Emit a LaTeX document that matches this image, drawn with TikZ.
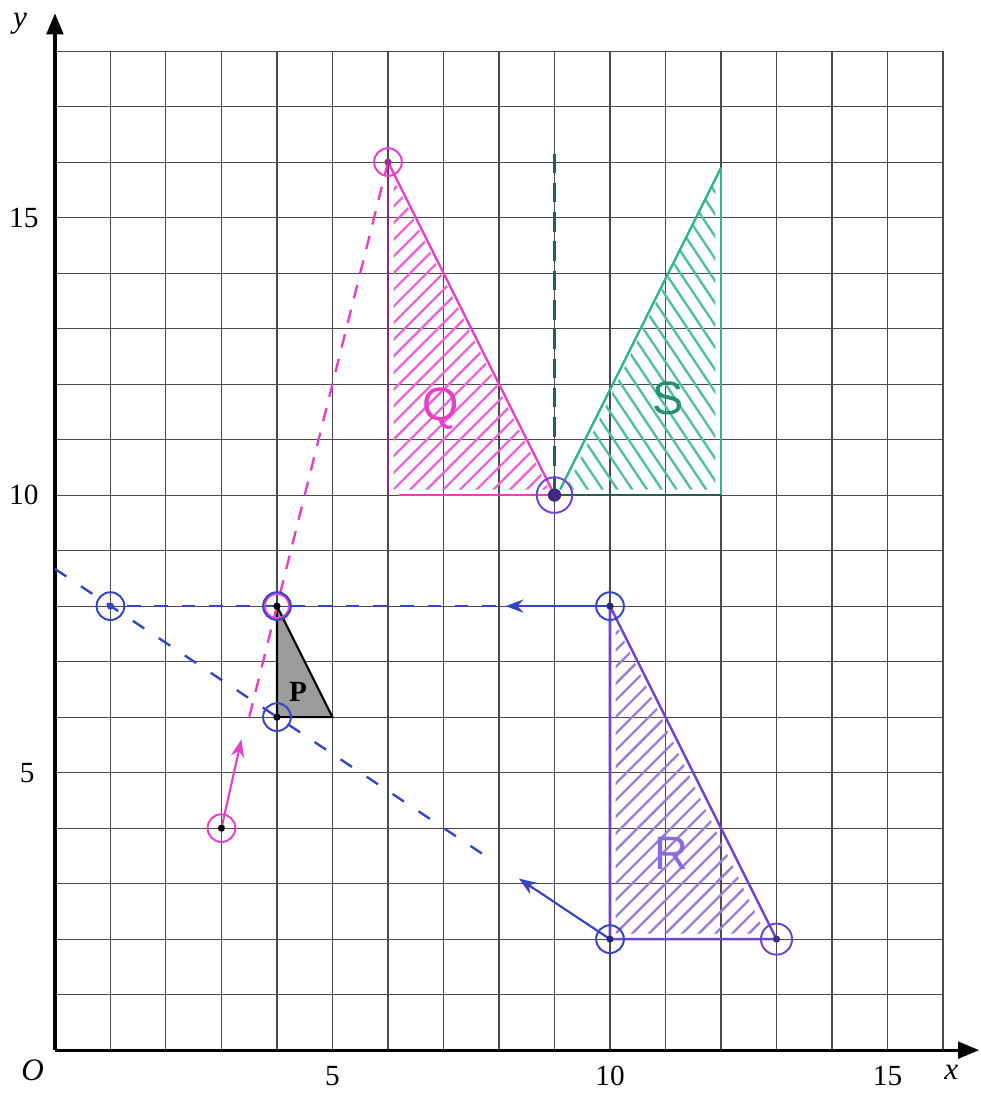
\documentclass[tikz,border=0pt]{standalone}
\usepackage{fontspec}
\setmainfont{Liberation Serif}
\newfontfamily\handfont{Liberation Sans}
\usetikzlibrary{arrows.meta}
\definecolor{gridink}{HTML}{4A4A4A}
\definecolor{enlmag}{HTML}{E83FCB}
\definecolor{refgreen}{HTML}{2FB58A}
\definecolor{mirrorink}{HTML}{2A5E45}
\definecolor{rotviolet}{HTML}{6E45D2}
\definecolor{trblue}{HTML}{3344C4}
\definecolor{shadegray}{HTML}{9C9C9C}

\tikzset{
  ring/.style={circle, draw, line width=1pt, minimum size=0.5cm, inner sep=0pt},
  dot/.style={circle, fill, inner sep=0pt, minimum size=0.13cm},
  hatch/.style={line width=1.2pt, line cap=round},
  movearrow/.style={line width=1.1pt, -{Stealth[length=0.32cm, width=0.24cm]}},
  axisline/.style={line width=1.6pt, -{Triangle[length=0.38cm, width=0.3cm]}},
  ticklbl/.style={font=\fontsize{15}{17}\selectfont},
  axislbl/.style={font=\itshape\fontsize{16}{18}\selectfont},
}

\begin{document}
\begin{tikzpicture}[x=1cm,y=1cm]
  \useasboundingbox (-0.99,-0.79) rectangle (16.67,18.92);

  % Grid and axes
  \draw[gridink, line width=0.55pt] (0,0) grid (16,18);
  \draw[axisline] (0,0) -- (16.65,0);
  \draw[axisline] (0,0) -- (0,18.68);

  \node[axislbl] (lblO) at (-0.4,-0.36) {O};
  \node[axislbl] (lblx) at (16.15,-0.4) {x};
  \node[axislbl] (lbly) at (-0.63,18.5) {y};
  \node[ticklbl] (tx5) at (5,-0.47) {5};
  \node[ticklbl] (tx10) at (10,-0.47) {10};
  \node[ticklbl] (tx15) at (15,-0.47) {15};
  \node[ticklbl] (ty5) at (-0.5,5) {5};
  \node[ticklbl] (ty10) at (-0.56,10) {10};
  \node[ticklbl] (ty15) at (-0.56,15) {15};

  % Points used by the constructions
  \coordinate (enlC) at (3,4);
  \coordinate (enlTip) at (3.36,5.6);
  \coordinate (enlEnd) at (3.5,6);
  \coordinate (Qtop) at (6,16);
  \coordinate (Ptop) at (4,8);
  \coordinate (Pbot) at (4,6);
  \coordinate (Rtop) at (10,8);
  \coordinate (Rbot) at (10,2);
  \coordinate (Rright) at (13,2);
  \coordinate (mirBase) at (9,10);
  \coordinate (mirTop) at (9,16.3);
  \coordinate (trImgA) at (1,8);
  \coordinate (trTipA) at (8.12,8);
  \coordinate (trEndA) at (1.3,8);
  \coordinate (trTipB) at (8.36,3.09);
  \coordinate (trStartB) at (0,8.67);
  \coordinate (trEndB) at (7.95,3.37);

  % Q (magenta, hatched)
  \begin{scope}
    \clip (6.1,15.7) -- (6.1,10.1) -- (8.9,10.1) -- cycle;
    \foreach \c in {0.7,1.0,...,10.3}
      \draw[hatch, enlmag!80] (5,5+\c) -- (13,13+\c);
  \end{scope}
  \draw[enlmag, line width=1.2pt] (6,16) -- (9,10);
  \draw[enlmag, line width=1.3pt] (6.2,10) -- (9,10);
  \draw[enlmag!60!black, line width=1pt] (6,10) -- (6,16);

  % S (green, hatched)
  \begin{scope}
    \clip (9.2,10.1) -- (11.9,10.1) -- (11.9,15.7) -- cycle;
    \foreach \c in {23.3,23.7,...,34.5}
      \draw[hatch, refgreen!85] (8,\c-12) -- (13,\c-19.5);
  \end{scope}
  \draw[refgreen, line width=1.2pt] (9.1,10.1) -- (12,15.9);
  \draw[refgreen, line width=1.3pt] (12,15.9) -- (12,10);
  \draw[mirrorink, line width=1.2pt] (9,10) -- (12,10);
  \draw[mirrorink, line width=1.2pt, dash pattern=on 10pt off 5pt] (mirBase) -- (mirTop);

  % R (violet, hatched)
  \begin{scope}
    \clip (10.1,7.7) -- (10.1,2.1) -- (12.8,2.1) -- cycle;
    \foreach \c in {-11.3,-11.0,...,-1.5}
      \draw[hatch, rotviolet!70] (9,9+\c) -- (14,14+\c);
  \end{scope}
  \draw[rotviolet, line width=1.3pt] (Rtop) -- (Rbot) -- (Rright) -- cycle;

  % P (object)
  \filldraw[fill=shadegray, draw=black, line width=1.1pt] (4,8) -- (4,6) -- (5,6) -- cycle;

  % Enlargement construction
  \draw[enlmag, line width=1.2pt, dash pattern=on 7pt off 6pt] (Qtop) -- (enlEnd);
  \draw[enlmag, movearrow] (enlC) -- (enlTip);

  % Translation construction
  \draw[trblue, line width=1.2pt, dash pattern=on 7pt off 7pt] (trEndA) -- (trTipA);
  \draw[trblue, movearrow] (Rtop) -- (trTipA);
  \draw[trblue, line width=1.2pt, dash pattern=on 7pt off 9pt] (trStartB) -- (trEndB);
  \draw[trblue, movearrow] (Rbot) -- (trTipB);

  % Circled points
  \node[ring, draw=enlmag] (ringC) at (enlC) {};
  \node[ring, draw=enlmag] (ringQ) at (Qtop) {};
  \node[ring, draw=enlmag, minimum size=0.44cm] (ringPm) at (Ptop) {};
  \node[ring, draw=trblue] (ringP) at (Ptop) {};
  \node[ring, draw=trblue] (ringPb) at (Pbot) {};
  \node[ring, draw=trblue] (ringA) at (trImgA) {};
  \node[ring, draw=trblue] (ringRt) at (Rtop) {};
  \node[ring, draw=trblue] (ringRb) at (Rbot) {};
  \node[ring, draw=rotviolet, minimum size=0.56cm] (ringRr) at (Rright) {};
  \node[ring, draw=rotviolet, minimum size=0.64cm] (ringM) at (mirBase) {};

  \node[dot, fill=black] (dotC) at (enlC) {};
  \node[dot, fill=enlmag!70!black] (dotQ) at (Qtop) {};
  \node[dot, fill=black] (dotP) at (Ptop) {};
  \node[dot, fill=black] (dotPb) at (Pbot) {};
  \node[dot, fill=trblue] (dotA) at (trImgA) {};
  \node[dot, fill=trblue!60!black] (dotRt) at (Rtop) {};
  \node[dot, fill=trblue!60!black] (dotRb) at (Rbot) {};
  \node[dot, fill=rotviolet!60!black] (dotRr) at (Rright) {};
  \node[dot, fill=rotviolet!60!black, minimum size=0.24cm] (dotM) at (mirBase) {};

  % Shape labels
  \node[font=\bfseries\fontsize{15}{17}\selectfont] (lblP) at (4.38,6.45) {P};
  \node[font=\handfont\fontsize{24}{28}\selectfont, text=enlmag] (lblQ) at (6.95,11.55) {Q};
  \node[font=\handfont\fontsize{24}{28}\selectfont, text=refgreen!80!black] (lblS) at (11.05,11.75) {S};
  \node[font=\handfont\fontsize{24}{28}\selectfont, text=rotviolet!80] (lblR) at (11.1,3.55) {R};
\end{tikzpicture}
\end{document}
